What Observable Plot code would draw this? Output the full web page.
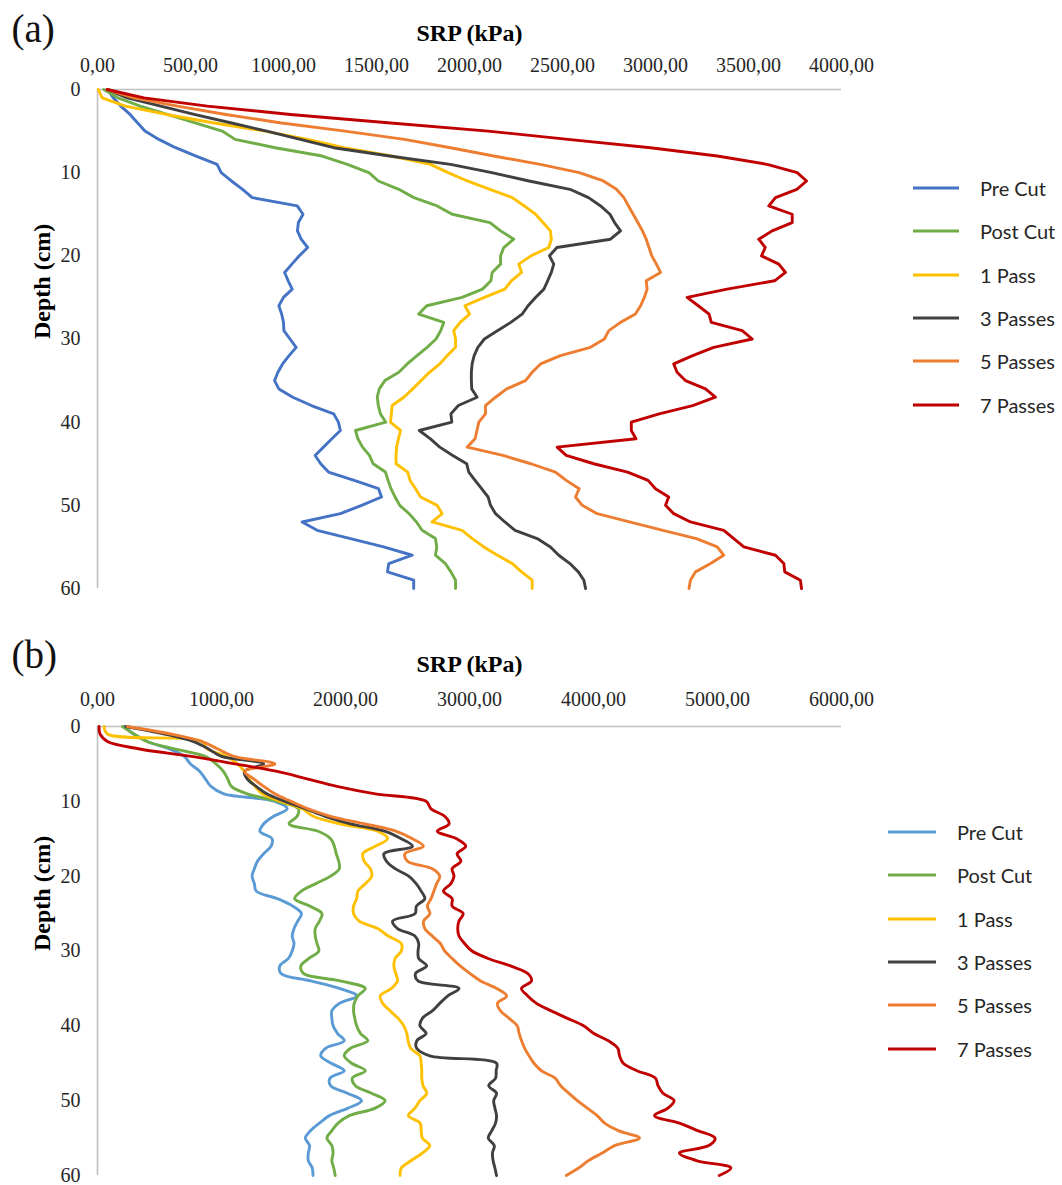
<!DOCTYPE html>
<html><head><meta charset="utf-8">
<script src="https://cdn.jsdelivr.net/npm/d3@7"></script>
<script src="https://cdn.jsdelivr.net/npm/@observablehq/plot@0.6"></script>
<style>
body{margin:0;background:#fff;}
#page{position:relative;width:1062px;height:1185px;overflow:hidden;background:#fff;}
.panel{position:absolute;left:0;}
.legend-item{position:absolute;height:24px;display:flex;align-items:center;white-space:nowrap;font-family:Lato,"Liberation Sans",sans-serif;font-size:20px;color:#262626;}
.legend-item svg{display:block;}
</style></head><body><div id="page"></div>
<script>
// ---------- data ----------
const depths = [0,1,2,3,4,5,6,7,8,9,10,11,12,13,14,15,16,17,18,19,20,21,22,23,24,25,26,27,28,29,30,
  31,32,33,34,35,36,37,38,39,40,41,42,43,44,45,46,47,48,49,50,51,52,53,54,55,56,57,58,59,60];
const seriesNames = ["Pre Cut","Post Cut","1 Pass","3 Passes","5 Passes","7 Passes"];
const xTicksA = [0,500,1000,1500,2000,2500,3000,3500,4000];
const xTicksB = [0,1000,2000,3000,4000,5000,6000];
const yTicks = [0,10,20,30,40,50,60];

// Panel (a) SRP (kPa) at each depth
const a_preCut = [54,85,125,175,215,255,330,420,530,643,
  665,720,780,832,1074,1105,1080,1075,1095,1130,
  1085,1045,1006,1025,1047,1000,975,990,1000,1002,
  1035,1068,1030,995,970,952,975,1050,1150,1270,
  1295,1306,1260,1215,1170,1200,1242,1380,1511,1527,
  1420,1306,1100,1181,1360,1538,1692,1566,1559,1700,1700];
const a_postCut = [34,110,230,375,525,670,740,955,1208,1343,
  1459,1510,1620,1701,1826,1907,2110,2167,2238,2184,
  2167,2167,2122,2115,2070,1960,1770,1727,1862,1845,
  1820,1772,1718,1665,1620,1545,1515,1504,1510,1521,
  1550,1387,1400,1425,1462,1482,1548,1562,1578,1600,
  1625,1675,1715,1745,1817,1824,1817,1870,1900,1925,1925];
const a_pass1 = [4,25,150,370,620,900,1130,1324,1580,1790,
  1885,1988,2110,2230,2295,2355,2395,2435,2440,2426,
  2330,2265,2280,2225,2190,2080,1975,2000,1950,1915,
  1925,1925,1880,1840,1785,1740,1695,1647,1584,1580,
  1575,1629,1618,1608,1605,1605,1668,1680,1710,1737,
  1826,1853,1799,1960,2015,2077,2150,2230,2280,2337,2337];
const a_pass3 = [52,160,340,520,715,910,1090,1270,1570,1898,
  2120,2320,2540,2640,2705,2755,2780,2812,2758,2470,
  2430,2453,2440,2420,2400,2355,2315,2283,2222,2150,
  2080,2045,2025,2014,2010,2010,2012,2041,1940,1900,
  1905,1730,1790,1840,1910,1985,1996,2030,2065,2100,
  2113,2140,2190,2245,2364,2435,2480,2540,2585,2615,2624];
const a_pass5 = [52,195,430,690,980,1330,1650,1898,2130,2380,
  2590,2720,2790,2830,2855,2880,2905,2930,2950,2965,
  2980,3005,3027,2950,2955,2940,2920,2892,2812,2749,
  2725,2650,2489,2382,2337,2301,2200,2140,2086,2086,
  2050,2040,2030,1988,2180,2330,2462,2520,2590,2570,
  2606,2686,2860,3040,3220,3332,3367,3296,3215,3188,3180];
const a_pass7 = [52,250,590,1038,1560,2100,2530,2973,3332,3600,
  3762,3812,3760,3645,3609,3735,3735,3627,3555,3590,
  3570,3663,3699,3640,3385,3170,3230,3288,3300,3466,
  3520,3313,3200,3098,3116,3161,3269,3322,3200,3020,
  2870,2870,2895,2471,2520,2668,2850,2960,3000,3071,
  3054,3098,3188,3367,3421,3475,3645,3690,3695,3779,3785];

// Panel (b) SRP (kPa) at each depth
const b_preCut = [215,290,400,580,700,750,825,870,915,1019,
  1430,1530,1420,1341,1310,1408,1400,1340,1290,1265,
  1247,1265,1280,1450,1575,1645,1615,1585,1570,1585,
  1570,1540,1470,1480,1720,1950,2090,1950,1890,1890,
  1900,1935,1990,1840,1800,1885,1990,1875,1880,2015,
  2130,2020,1870,1790,1720,1676,1710,1700,1700,1732,1738];
const b_postCut = [201,295,400,620,870,955,1015,1050,1080,1207,
  1450,1620,1610,1545,1780,1880,1910,1925,1945,1950,
  1880,1760,1645,1590,1710,1810,1790,1756,1756,1770,
  1785,1705,1640,1660,1957,2159,2100,2070,2065,2075,
  2090,2120,2180,2040,1990,2050,2160,2055,2080,2210,
  2319,2240,2030,1940,1890,1850,1890,1900,1890,1905,1917];
const b_pass1 = [54,80,840,885,1040,1130,1185,1220,1270,1330,
  1480,1650,1740,1950,2260,2340,2240,2140,2150,2200,
  2212,2160,2100,2090,2065,2065,2110,2260,2345,2450,
  2450,2400,2390,2405,2420,2370,2280,2300,2360,2425,
  2470,2494,2505,2525,2600,2610,2615,2615,2625,2655,
  2600,2560,2507,2601,2610,2620,2680,2620,2530,2450,2440];
const b_pass3 = [228,540,770,895,1000,1340,1185,1207,1280,1365,
  1510,1680,1835,2040,2320,2450,2540,2310,2330,2400,
  2510,2570,2610,2640,2572,2561,2380,2420,2560,2590,
  2585,2590,2655,2565,2585,2915,2825,2760,2700,2620,
  2600,2650,2575,2574,2680,3218,3215,3210,3155,3218,
  3195,3205,3218,3210,3180,3151,3200,3185,3190,3205,3218];
const b_pass5 = [241,590,840,970,1100,1430,1185,1260,1340,1430,
  1560,1700,1880,2150,2410,2540,2628,2480,2500,2700,
  2760,2735,2712,2690,2660,2681,2630,2640,2700,2765,
  2800,2860,2925,3003,3090,3220,3300,3225,3250,3320,
  3385,3400,3420,3445,3480,3520,3580,3690,3735,3800,
  3870,3950,4030,4090,4200,4371,4170,4070,3960,3880,3781];
const b_pass7 = [13,20,80,340,760,1110,1450,1690,1930,2240,
  2650,2690,2800,2835,2740,2896,2970,2900,2930,2860,
  2875,2850,2790,2860,2860,2949,2915,2905,2915,2960,
  3020,3150,3330,3470,3500,3419,3470,3540,3660,3790,
  3920,4000,4120,4196,4210,4240,4350,4500,4520,4560,
  4650,4600,4492,4693,4840,4980,4930,4693,4830,5108,5014];

const colorsA = ["#4472C4","#70AD47","#FFC000","#404040","#ED7D31","#C00000"];
const colorsB = ["#5B9BD5","#70AD47","#FFC000","#404040","#ED7D31","#C00000"];

// ---------- drawing ----------
const page = document.getElementById("page");
const fmt = d => d3.format(".2f")(d).replace(".", ",");

function rows(vals, name) {
  return depths.map((d, i) => ({depth: d, srp: vals[i], series: name}));
}

function panel({top, height, marginTop, marginBottom, xmax, xticks, data, colors, curve, tag, tagDy, titleDy, tickPad}) {
  const plot = Plot.plot({
    width: 860,
    height,
    marginLeft: 97,
    marginRight: 19,
    marginTop,
    marginBottom,
    style: {fontFamily: "'Liberation Serif','Times New Roman',serif", fontSize: "20px", color: "#262626", background: "transparent", overflow: "visible"},
    x: {domain: [0, xmax], axis: null},
    y: {domain: [0, 60], reverse: true, axis: null},
    marks: [
      Plot.ruleY([0], {stroke: "#C0C0C0", strokeWidth: 1.6}),
      Plot.ruleX([0], {stroke: "#C0C0C0", strokeWidth: 1.6}),
      ...data.map((vals, i) => Plot.line(rows(vals, seriesNames[i]), {x: "srp", y: "depth", stroke: colors[i], strokeWidth: 2.9, curve})),
      Plot.axisX({anchor: "top", ticks: xticks, tickFormat: fmt, tickSize: 0, tickPadding: tickPad, label: null}),
      Plot.axisY({ticks: yTicks, tickSize: 0, tickPadding: 17, label: null}),
      Plot.text(["SRP (kPa)"], {text: d => d, frameAnchor: "top", dy: titleDy, fontWeight: "bold", fontSize: 24, lineAnchor: "middle", fill: "#000"}),
      Plot.text(["Depth (cm)"], {text: d => d, frameAnchor: "left", dx: -55, rotate: -90, fontWeight: "bold", fontSize: 24, lineAnchor: "middle", fill: "#000"}),
      Plot.text([tag], {text: d => d, frameAnchor: "top-left", dx: -86, dy: tagDy, fontSize: 39, textAnchor: "start", lineAnchor: "middle", fill: "#111"})
    ]
  });
  plot.classList.add("panel");
  plot.style.top = top + "px";
  page.appendChild(plot);
}

function legend(lineX, textGap, lineW, y0, colors) {
  seriesNames.forEach((name, i) => {
    const item = document.createElement("div");
    item.className = "legend-item";
    item.style.left = lineX + "px";
    item.style.top = (y0 + i * 43.3 - 12) + "px";
    const svg = d3.create("svg").attr("width", lineW).attr("height", 24).style("margin-right", textGap + "px");
    svg.append("line").attr("x1", 0).attr("x2", lineW).attr("y1", 12).attr("y2", 12)
      .attr("stroke", colors[i]).attr("stroke-width", 3);
    item.appendChild(svg.node());
    const span = document.createElement("span");
    span.textContent = name;
    item.appendChild(span);
    page.appendChild(item);
  });
}

panel({top: 0, height: 600, marginTop: 89, marginBottom: 12, xmax: 4000, xticks: xTicksA,
  data: [a_preCut, a_postCut, a_pass1, a_pass3, a_pass5, a_pass7], colors: colorsA, curve: "linear",
  tag: "(a)", tagDy: -60, titleDy: -56, tickPad: 18});
panel({top: 600, height: 585, marginTop: 126, marginBottom: 10, xmax: 6000, xticks: xTicksB,
  data: [b_preCut, b_postCut, b_pass1, b_pass3, b_pass5, b_pass7], colors: colorsB, curve: "catmull-rom",
  tag: "(b)", tagDy: -71, titleDy: -62, tickPad: 21});

legend(913, 21, 46, 188, colorsA);
legend(888, 21, 48, 832, colorsB);
</script></body></html>
